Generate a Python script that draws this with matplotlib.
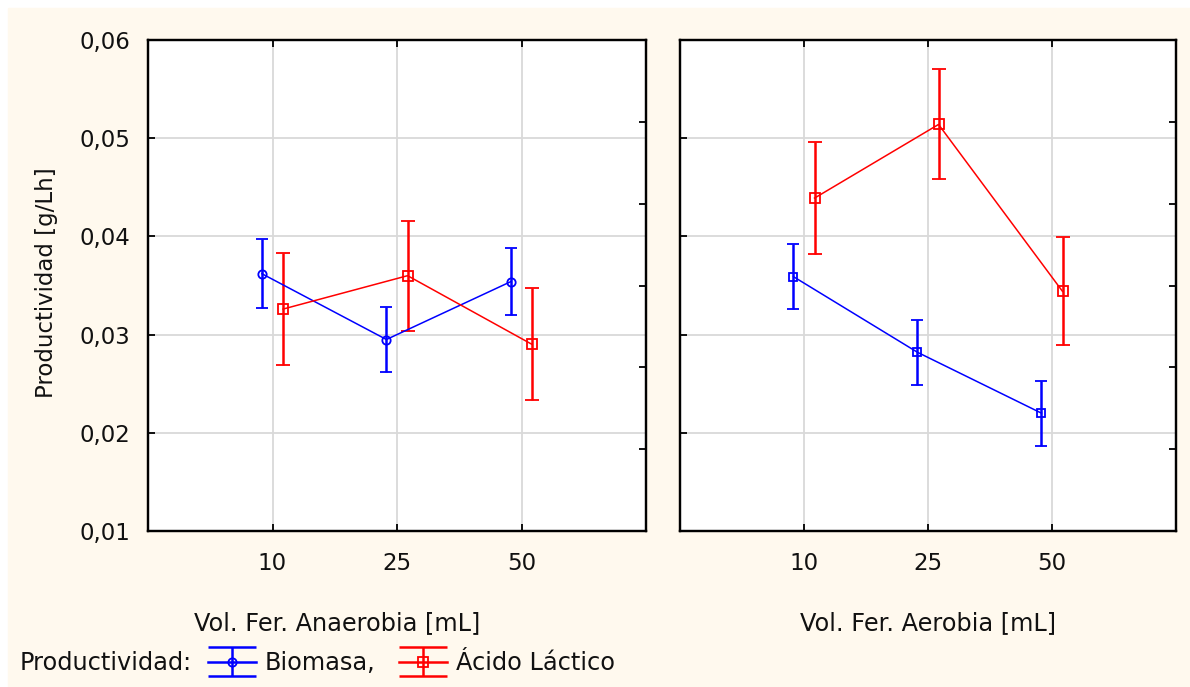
import numpy as np
import matplotlib.pyplot as plt
from matplotlib.container import ErrorbarContainer
from matplotlib.legend_handler import HandlerErrorbar
from matplotlib.lines import Line2D
from matplotlib.patches import Rectangle
from matplotlib.ticker import FuncFormatter

volumes = ['10', '25', '50']

# Vol. Fer. Anaerobia
anaer_biomasa = [0.0362, 0.0295, 0.0354]
anaer_biomasa_err = [0.0035, 0.0033, 0.0034]
anaer_lactico = [0.0326, 0.0360, 0.0290]
anaer_lactico_err = [0.0057, 0.0056, 0.0057]

# Vol. Fer. Aerobia
aer_biomasa = [0.0359, 0.0282, 0.0220]
aer_biomasa_err = [0.0033, 0.0033, 0.0033]
aer_lactico = [0.0439, 0.0514, 0.0344]
aer_lactico_err = [0.0057, 0.0056, 0.0055]

yticks = [0.01, 0.02, 0.03, 0.04, 0.05, 0.06]

FS = 16.5
FS_LAB = 17.3
W, H = 1190, 687
BLUE = '#0000ff'
RED = '#ff0000'
TXT = '#111111'


class WideCaps(HandlerErrorbar):
    # caps as wide as the handle, like the original legend
    def create_artists(self, *args, **kwargs):
        arts = super().create_artists(*args, **kwargs)
        for a in arts:
            if isinstance(a, Line2D):
                if a.get_marker() == '_':
                    a.set_markersize(34)
                    a.set_markeredgewidth(1.8)
                else:
                    a.set_linewidth(1.8)
            else:
                a.set_linewidth(1.8)
        return arts


fig = plt.figure(figsize=(W / 100, H / 100), dpi=100, facecolor='white')
fig.patches.append(Rectangle((8 / W, 0), 1, 1 - 8 / H, transform=fig.transFigure,
                             color='#fff9ee', zorder=-10))

ax_l = fig.add_axes([148 / W, 1 - 531 / H, 498 / W, 491 / H])
ax_r = fig.add_axes([680 / W, 1 - 531 / H, 496 / W, 491 / H])

x = np.arange(1, len(volumes) + 1)
off = 0.085


def panel(ax, bio, bio_err, lac, lac_err, bio_marker, xlabel, xlab_x):
    hb = ax.errorbar(x - off, bio, yerr=bio_err, color=BLUE, lw=1.1, marker=bio_marker,
                     ms=6, mfc='none', mec=BLUE, mew=1.3, elinewidth=1.8,
                     capsize=4, capthick=1.8, zorder=3)
    hr = ax.errorbar(x + off, lac, yerr=lac_err, color=RED, lw=1.1, marker='s',
                     ms=6.5, mfc='none', mec=RED, mew=1.3, elinewidth=1.8,
                     capsize=4.8, capthick=1.8, zorder=3)
    ax.set_xlim(0, 4)
    ax.set_ylim(0.01, 0.06)
    ax.set_xticks(x)
    ax.set_xticklabels(volumes)
    ax.set_yticks(yticks)
    ax.yaxis.set_major_formatter(FuncFormatter(lambda v, p: f'{v:.2f}'.replace('.', ',')))
    ax.grid(True, color='#d9d9d9', lw=1.3)
    ax.set_axisbelow(True)
    ax.tick_params(axis='both', direction='in', length=5, width=1.3, colors='black',
                   labelsize=FS, labelcolor=TXT, top=True, right=False)
    ax.tick_params(axis='x', pad=15)
    ax.tick_params(axis='y', pad=13)
    for s in ax.spines.values():
        s.set_linewidth(1.6)
        s.set_color('black')
    ax.set_xlabel(xlabel, fontsize=FS_LAB, color=TXT, va='center')
    ax.xaxis.set_label_coords(xlab_x, -0.187)
    # odd ticks on the right edge dividing the axis in sixths
    tw = ax.twinx()
    tw.set_ylim(0, 6)
    tw.set_yticks([1, 2, 3, 4, 5])
    tw.tick_params(axis='y', direction='in', length=5, width=1.3, labelright=False)
    for s in tw.spines.values():
        s.set_linewidth(1.6)
    return hb, hr


hb, hr = panel(ax_l, anaer_biomasa, anaer_biomasa_err, anaer_lactico, anaer_lactico_err,
               'o', 'Vol. Fer. Anaerobia [mL]', 0.3805)
panel(ax_r, aer_biomasa, aer_biomasa_err, aer_lactico, aer_lactico_err,
      's', 'Vol. Fer. Aerobia [mL]', 0.5)
ax_r.tick_params(axis='y', labelleft=False)

ax_l.set_ylabel('Productividad [g/Lh]', fontsize=FS, color=TXT, va='center')
ax_l.yaxis.set_label_coords(-0.203, 0.505)

fig.text(20 / W, 1 - 663 / H, 'Productividad:', fontsize=FS_LAB, color=TXT,
         ha='left', va='center')
fig.legend([hb, hr], ['Biomasa,', 'Ácido Láctico'], loc='center left',
           bbox_to_anchor=(208 / W, 1 - 663 / H), ncol=2, frameon=False,
           borderpad=0, borderaxespad=0, handlelength=2.0, handletextpad=0.35,
           columnspacing=1.0, fontsize=FS_LAB, labelcolor=TXT,
           handler_map={ErrorbarContainer: WideCaps(yerr_size=0.62)})

fig.savefig('out.png', dpi=100)
